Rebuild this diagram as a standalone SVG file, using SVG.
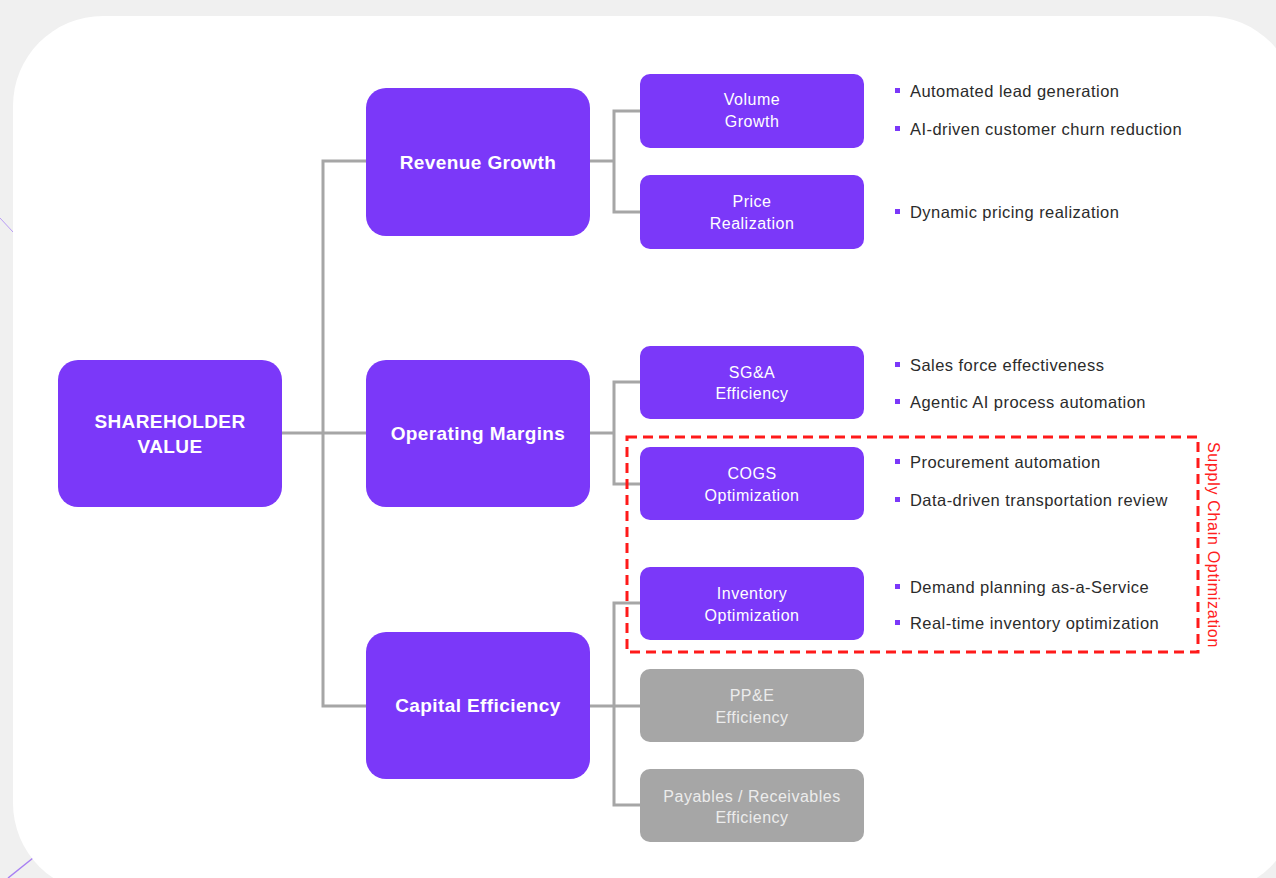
<svg xmlns="http://www.w3.org/2000/svg" width="1276" height="878" viewBox="0 0 1276 878">
<style>
.big{fill:#7b38f9;}
.sm{fill:#7b38f9;}
.gray{fill:#a6a6a6;}
.bt{font-family:"Liberation Sans",Arial,sans-serif;font-weight:bold;font-size:19px;letter-spacing:0.4px;fill:#ffffff;text-anchor:middle;}
.st{font-family:"Liberation Sans",Arial,sans-serif;font-size:16px;letter-spacing:0.5px;fill:#ffffff;text-anchor:middle;}
.gt{font-family:"Liberation Sans",Arial,sans-serif;font-size:16px;letter-spacing:0.5px;fill:#ececec;text-anchor:middle;}
.bl{font-family:"Liberation Sans",Arial,sans-serif;font-size:16.5px;letter-spacing:0.45px;fill:#2b2b2b;}
.sq{fill:#7b38f9;}
.conn{fill:none;stroke:#a6a6a6;stroke-width:3;}
</style>
<rect width="1276" height="878" fill="#f0f0f0"/>
<line x1="0" y1="218" x2="13" y2="232" stroke="#b99cf5" stroke-width="1"/>
<line x1="8" y1="878" x2="33" y2="858" stroke="#a77ff2" stroke-width="1.5"/>
<rect x="13" y="16" width="1284" height="877" rx="90" fill="#ffffff"/>

<g id="connectors">
<polyline class="conn" points="282,433 323,433"/>
<polyline class="conn" points="366,161 323,161 323,706 366,706"/>
<polyline class="conn" points="323,433 366,433"/>
<polyline class="conn" points="590,161 614,161"/>
<polyline class="conn" points="640,111 614,111 614,212 640,212"/>
<polyline class="conn" points="590,433 614,433"/>
<polyline class="conn" points="640,382 614,382 614,484 640,484"/>
<polyline class="conn" points="590,706 640,706"/>
<polyline class="conn" points="640,603 614,603 614,805 640,805"/>
</g>

<g id="shareholder-value">
<rect class="big" x="58" y="360" width="224" height="147" rx="20"/>
<text class="bt" x="170" y="428">SHAREHOLDER</text>
<text class="bt" x="170" y="453">VALUE</text>
</g>
<g id="revenue-growth">
<rect class="big" x="366" y="88" width="224" height="148" rx="20"/>
<text class="bt" x="478" y="169">Revenue Growth</text>
</g>
<g id="operating-margins">
<rect class="big" x="366" y="360" width="224" height="147" rx="20"/>
<text class="bt" x="478" y="440">Operating Margins</text>
</g>
<g id="capital-efficiency">
<rect class="big" x="366" y="632" width="224" height="147" rx="20"/>
<text class="bt" x="478" y="712">Capital Efficiency</text>
</g>

<g id="volume-growth">
<rect class="sm" x="640" y="74" width="224" height="74" rx="10"/>
<text class="st" x="752" y="105">Volume</text>
<text class="st" x="752" y="127">Growth</text>
</g>
<g id="price-realization">
<rect class="sm" x="640" y="175" width="224" height="74" rx="10"/>
<text class="st" x="752" y="207">Price</text>
<text class="st" x="752" y="229">Realization</text>
</g>
<g id="sga-efficiency">
<rect class="sm" x="640" y="346" width="224" height="73" rx="10"/>
<text class="st" x="752" y="378">SG&amp;A</text>
<text class="st" x="752" y="399">Efficiency</text>
</g>
<g id="cogs-optimization">
<rect class="sm" x="640" y="447" width="224" height="73" rx="10"/>
<text class="st" x="752" y="479">COGS</text>
<text class="st" x="752" y="501">Optimization</text>
</g>
<g id="inventory-optimization">
<rect class="sm" x="640" y="567" width="224" height="73" rx="10"/>
<text class="st" x="752" y="599">Inventory</text>
<text class="st" x="752" y="621">Optimization</text>
</g>
<g id="ppe-efficiency">
<rect class="gray" x="640" y="669" width="224" height="73" rx="10"/>
<text class="gt" x="752" y="701">PP&amp;E</text>
<text class="gt" x="752" y="723">Efficiency</text>
</g>
<g id="payables-receivables">
<rect class="gray" x="640" y="769" width="224" height="73" rx="10"/>
<text class="gt" x="752" y="802">Payables / Receivables</text>
<text class="gt" x="752" y="823">Efficiency</text>
</g>

<g id="bullets">
<rect class="sq" x="895" y="88" width="5" height="5"/><text class="bl" x="910" y="97">Automated lead generation</text>
<rect class="sq" x="895" y="126" width="5" height="5"/><text class="bl" x="910" y="135">AI-driven customer churn reduction</text>
<rect class="sq" x="895" y="209" width="5" height="5"/><text class="bl" x="910" y="218">Dynamic pricing realization</text>
<rect class="sq" x="895" y="362" width="5" height="5"/><text class="bl" x="910" y="371">Sales force effectiveness</text>
<rect class="sq" x="895" y="399" width="5" height="5"/><text class="bl" x="910" y="408">Agentic AI process automation</text>
<rect class="sq" x="895" y="459" width="5" height="5"/><text class="bl" x="910" y="468">Procurement automation</text>
<rect class="sq" x="895" y="497" width="5" height="5"/><text class="bl" x="910" y="506">Data-driven transportation review</text>
<rect class="sq" x="895" y="584" width="5" height="5"/><text class="bl" x="910" y="593">Demand planning as-a-Service</text>
<rect class="sq" x="895" y="620" width="5" height="5"/><text class="bl" x="910" y="629">Real-time inventory optimization</text>
</g>

<g id="supply-chain-group">
<rect x="627" y="437" width="571" height="215" fill="none" stroke="#ff1a1a" stroke-width="3" stroke-dasharray="10,6"/>
<text x="1208" y="545" transform="rotate(90 1208 545)" font-family="'Liberation Sans',Arial,sans-serif" font-size="16" letter-spacing="0.7" fill="#ff2020" text-anchor="middle">Supply Chain Optimization</text>
</g>
</svg>
